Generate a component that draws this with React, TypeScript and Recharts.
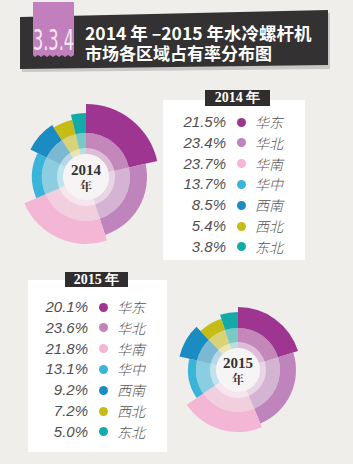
import React from 'react';
import { PieChart, Pie, Cell } from 'recharts';

const regions = ['华东', '华北', '华南', '华中', '西南', '西北', '东北'];
const share2014 = [21.5, 23.4, 23.7, 13.7, 8.5, 5.4, 3.8];
const share2015 = [20.1, 23.6, 21.8, 13.1, 9.2, 7.2, 5.0];

// style: colours and the decorative outer radius of each wedge
const colors = ['#9e3590', '#c084bd', '#f3b6d4', '#3ab4d9', '#1a8cc1', '#c6bc17', '#14aaa8'];
const radius2014 = [73, 61, 67, 54, 62, 59, 64];
const radius2015 = [63, 58, 62, 50, 60, 54, 58];

const toRows = (vals: number[]) => regions.map((name, i) => ({ name, value: vals[i] }));
const data2014 = toRows(share2014);
const data2015 = toRows(share2015);
const disc = [{ name: 'c', value: 1 }];

const BG = '#efeeeb';

function donut(id: string, data: { name: string; value: number }[], cx: number, cy: number, radii: number[], hole: number, mid: number) {
  const common = { dataKey: 'value', cx, cy, startAngle: 90, endAngle: -270, stroke: 'none', isAnimationActive: false };
  return [
    ...radii.map((r, k) => (
      <Pie key={id + 'o' + k} {...common} data={data} innerRadius={mid} outerRadius={r}>
        {data.map((d, i) => (
          <Cell key={i} fill={i === k ? colors[i] : 'transparent'} />
        ))}
      </Pie>
    )),
    <Pie key={id + 'm'} {...common} data={data} innerRadius={hole} outerRadius={mid}>
      {data.map((d, i) => (
        <Cell key={i} fill={colors[i]} fillOpacity={0.55} />
      ))}
    </Pie>,
    <Pie key={id + 'r'} {...common} data={disc} innerRadius={hole} outerRadius={hole + 6} fill="#ffffff" fillOpacity={0.45} />,
    <Pie key={id + 'c'} {...common} data={disc} innerRadius={0} outerRadius={hole} fill="#f6f4f4" />,
  ];
}

const Legend = ({ vals, year, box, label, pctRight, dotX, textX, rowY }: any) => (
  <>
    <div style={{ position: 'absolute', left: box[0], top: box[1], width: box[2], height: box[3], background: '#ffffff' }} />
    <div
      style={{
        position: 'absolute', left: label[0], top: label[1], width: label[2], height: label[3], background: '#2f2d2e',
        color: '#fff', fontFamily: '"Liberation Serif", serif', fontWeight: 700, fontSize: 14, lineHeight: label[3] + 'px', textAlign: 'center',
      }}
    >
      {year} 年
    </div>
    {vals.map((v: number, i: number) => {
      const y = rowY + i * 20.8;
      return (
        <React.Fragment key={i}>
          <div
            style={{
              position: 'absolute', left: pctRight - 70, top: y - 9, width: 70, height: 18, lineHeight: '18px', textAlign: 'right',
              fontFamily: '"Liberation Sans", Arial, sans-serif', fontStyle: 'italic', fontSize: 15, color: '#505050',
            }}
          >
            {v.toFixed(1)}%
          </div>
          <div style={{ position: 'absolute', left: dotX - 4.5, top: y - 4.5, width: 9, height: 9, borderRadius: '50%', background: colors[i] }} />
          <div
            style={{
              position: 'absolute', left: textX, top: y - 9, height: 18, lineHeight: '18px',
              fontFamily: '"Noto Sans CJK SC", sans-serif', fontWeight: 300, fontStyle: 'italic', fontSize: 14, color: '#555',
            }}
          >
            {regions[i]}
          </div>
        </React.Fragment>
      );
    })}
  </>
);

const CenterLabel = ({ x, y, year }: { x: number; y: number; year: string }) => (
  <>
    <div
      style={{
        position: 'absolute', left: x - 30, top: y - 15, width: 60, height: 16, lineHeight: '16px', textAlign: 'center', color: '#333',
        fontFamily: '"Liberation Serif", "DejaVu Serif", serif', fontWeight: 700, fontSize: 15,
      }}
    >
      {year}
    </div>
    <div
      style={{
        position: 'absolute', left: x - 30, top: y + 2, width: 60, height: 14, lineHeight: '14px', textAlign: 'center', color: '#333',
        fontFamily: '"Noto Serif CJK SC", "Noto Sans CJK SC", serif', fontWeight: 700, fontSize: 12,
      }}
    >
      年
    </div>
  </>
);

const Header = () => (
  <svg width={353} height={75} style={{ position: 'absolute', left: 0, top: 0 }}>
    <polygon points="22,20 330,13 330,69 22,72" fill="#c9c8c6" />
    <polygon points="20,17 328,10 328,65 20,69" fill="#333132" />
    <polygon points="33,2 74,2 74,55 71,57 68,55 65,57 62,55 59,57 56,55 53,57 50,55 47,57 44,55 41,57 38,55 35,57 33,55" fill="#c27fbd" />
    <text
      x={0}
      y={0}
      textAnchor="middle"
      fill="#f5e8f3"
      fontSize={29}
      fontFamily='"Liberation Sans Narrow", "DejaVu Sans Condensed", sans-serif'
      transform="translate(53.5 50) scale(0.62 1)"
    >
      3.3.4
    </text>
    <text x={85} y={40} fill="#fff" fontSize={17.5} fontWeight={700} fontFamily='"Noto Sans CJK SC", sans-serif'>
      2014 年 –2015 年水冷螺杆机
    </text>
    <text x={85} y={60} fill="#fff" fontSize={17} fontWeight={700} fontFamily='"Noto Sans CJK SC", sans-serif'>
      市场各区域占有率分布图
    </text>
  </svg>
);

export default function App() {
  return (
    <div style={{ position: 'absolute', left: 0, top: 0, width: 353, height: 464, background: BG, overflow: 'hidden' }}>
      <Header />
      <Legend vals={share2014} year="2014" box={[163, 100, 142, 160]} label={[205, 90, 65, 16]} pctRight={226} dotX={241} textX={255} rowY={122} />
      <Legend vals={share2015} year="2015" box={[28, 280, 139, 172]} label={[65, 272, 63, 15]} pctRight={88} dotX={103} textX={117} rowY={307} />
      <div style={{ position: 'absolute', left: 0, top: 0 }}>
        <PieChart width={353} height={464} margin={{ top: 0, right: 0, bottom: 0, left: 0 }}>
          {donut('a', data2014, 86, 177, radius2014, 23, 44)}
          {donut('b', data2015, 238, 370, radius2015, 22, 42)}
        </PieChart>
      </div>
      <CenterLabel x={86} y={177} year="2014" />
      <CenterLabel x={238} y={370} year="2015" />
    </div>
  );
}
